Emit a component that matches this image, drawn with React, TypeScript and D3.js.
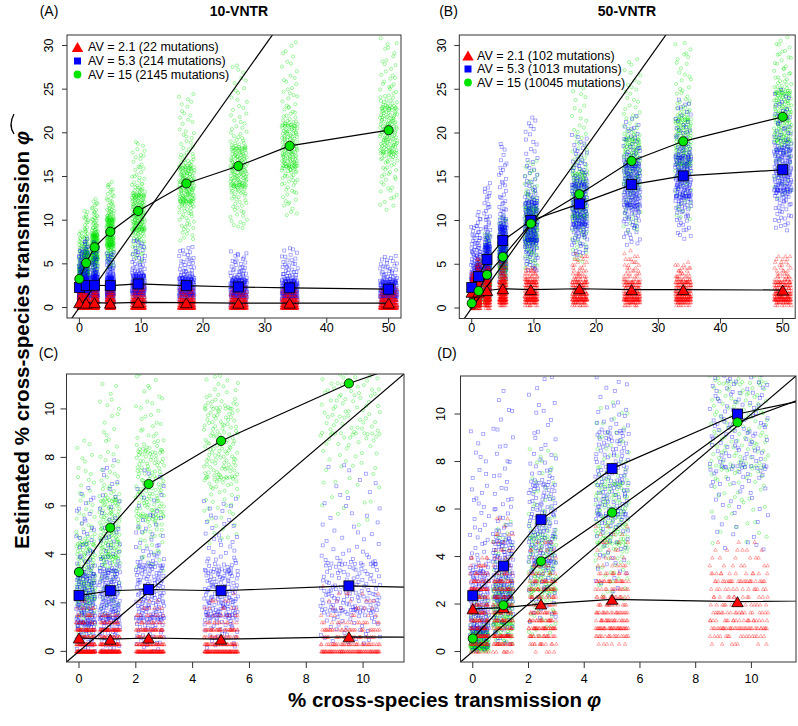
import React from "react";
import * as d3 from "d3";

// ---------- data ----------
const phiValues = [0, 1.1, 2.45, 5, 9.5, 17.3, 25.7, 34, 50];
const jitterLow = [-0.1, 0.72, 2.0, 4.4, 8.5, 16.1, 24.4, 32.7, 48.6];
const jitterHigh = [0.58, 1.45, 3.0, 5.6, 10.6, 18.6, 27.1, 35.3, 51.4];

const mean10Red = [0.55, 0.5, 0.55, 0.5, 0.6, 0.55, 0.5, 0.5, 0.5];
const mean10Blue = [2.3, 2.5, 2.55, 2.5, 2.7, 2.5, 2.35, 2.25, 2.1];
const mean10Green = [3.27, 5.1, 6.9, 8.68, 11.05, 14.2, 16.2, 18.5, 20.3];
const mean50Red = [1.8, 1.85, 2.0, 2.2, 2.1, 2.2, 2.1, 2.1, 2.05];
const mean50Blue = [2.35, 3.6, 5.55, 7.7, 10.0, 11.9, 14.1, 15.1, 15.8];
const mean50Green = [0.55, 1.95, 3.8, 5.85, 9.65, 13.0, 16.8, 19.05, 21.85];

// cloud summaries per phi: [min, q1, median, q3, max]
const cloud10Green = [
  [0.6, 2.2, 3.0, 4.4, 9.0],
  [1.4, 3.9, 4.9, 6.2, 11.2],
  [3.3, 5.6, 6.8, 8.2, 12.5],
  [4.4, 7.2, 8.5, 10.0, 14.5],
  [5.2, 9.0, 10.8, 12.8, 19.0],
  [7.5, 12.2, 14.0, 16.0, 25.0],
  [9.0, 14.0, 16.0, 18.2, 28.0],
  [10.5, 16.2, 18.3, 20.8, 30.5],
  [11.0, 17.8, 20.2, 22.8, 31.0],
];
const cloud10Blue = [
  [0, 1.2, 2.1, 3.1, 6.8],
  [0, 1.4, 2.3, 3.3, 8.0],
  [0, 1.4, 2.4, 3.5, 7.5],
  [0.1, 1.5, 2.3, 3.3, 6.5],
  [0.3, 1.7, 2.5, 3.6, 7.8],
  [0, 1.5, 2.3, 3.3, 7.0],
  [0, 1.4, 2.2, 3.1, 6.5],
  [0, 1.3, 2.1, 3.0, 6.8],
  [0, 1.3, 2.0, 2.9, 6.0],
];
const cloud10Red = [
  [0, 0, 0.3, 0.9, 2.0],
  [0, 0, 0.3, 0.9, 1.6],
  [0, 0, 0.3, 0.9, 2.1],
  [0, 0, 0.3, 0.9, 2.3],
  [0, 0, 0.3, 1.0, 2.6],
  [0, 0, 0.3, 0.9, 2.4],
  [0, 0, 0.3, 0.9, 2.3],
  [0, 0, 0.3, 0.9, 2.3],
  [0, 0, 0.3, 0.9, 2.4],
];
const cloud50Green = [
  [0, 0.2, 0.45, 0.8, 2.5],
  [0.3, 1.2, 1.9, 2.6, 5.5],
  [0.6, 2.6, 3.6, 4.8, 8.6],
  [2.2, 4.6, 5.7, 7.0, 10.5],
  [4.5, 7.8, 9.5, 11.3, 17.0],
  [5.0, 10.5, 12.8, 15.3, 26.0],
  [8.5, 14.3, 16.7, 19.2, 29.0],
  [10.0, 16.5, 19.0, 21.5, 30.5],
  [12.5, 19.2, 21.8, 24.5, 31.0],
];
const cloud50Blue = [
  [0, 1.0, 2.0, 3.3, 9.4],
  [0.3, 2.3, 3.3, 4.6, 11.0],
  [1.2, 3.8, 5.2, 7.0, 14.5],
  [2.5, 5.8, 7.4, 9.2, 18.9],
  [4.2, 7.8, 9.7, 12.0, 22.0],
  [5.8, 9.6, 11.7, 14.0, 20.0],
  [7.2, 11.8, 14.0, 16.2, 22.0],
  [7.8, 12.8, 15.0, 17.2, 24.0],
  [8.8, 13.5, 15.7, 18.0, 25.0],
];
const cloud50Red = [
  [0, 0.6, 1.5, 2.7, 4.1],
  [0, 0.6, 1.6, 2.8, 5.7],
  [0, 0.9, 1.7, 2.8, 4.8],
  [0.3, 1.0, 1.8, 3.0, 5.5],
  [0.3, 1.0, 1.8, 3.0, 4.7],
  [0.3, 1.0, 1.8, 3.0, 6.2],
  [0.3, 1.0, 1.7, 2.9, 6.5],
  [0.3, 1.0, 1.7, 2.9, 5.2],
  [0.3, 1.0, 1.7, 2.9, 6.2],
];
const pointsPerCloud = 200;

const legend10 = ["AV = 2.1 (22 mutations)", "AV = 5.3 (214 mutations)", "AV = 15 (2145 mutations)"];
const legend50 = ["AV = 2.1 (102 mutations)", "AV = 5.3 (1013 mutations)", "AV = 15 (10045 mutations)"];

const wideXTicks = [0, 10, 20, 30, 40, 50];
const wideYTicks = [0, 5, 10, 15, 20, 25, 30];
const zoomXTicks = [0, 2, 4, 6, 8, 10];
const zoomYTicks = [0, 2, 4, 6, 8, 10];

// ---------- helpers ----------
function radicalInverse(i: number, base: number) {
  let f = 1, r = 0;
  while (i > 0) {
    f /= base;
    r += f * (i % base);
    i = Math.floor(i / base);
  }
  return r;
}

function inverseCdf(q: number[], u: number) {
  const [mn, q1, md, q3, mx] = q;
  if (u < 0.25) {
    const t = u / 0.25;
    return q1 - (q1 - mn) * Math.pow(1 - t, 2.2);
  } else if (u < 0.5) {
    return q1 + (md - q1) * ((u - 0.25) / 0.25);
  } else if (u < 0.75) {
    return md + (q3 - md) * ((u - 0.5) / 0.25);
  }
  const t = (u - 0.75) / 0.25;
  return q3 + (mx - q3) * Math.pow(t, 2.2);
}

type Pt = { x: number; y: number };
function makeCloud(summary: number[][], step: number, seed: number): Pt[] {
  const out: Pt[] = [];
  summary.forEach((q, xi) => {
    for (let i = 0; i < pointsPerCloud; i++) {
      const k = 1 + i + seed + xi * 211;
      const u = radicalInverse(k, 2);
      const v = radicalInverse(k, 3);
      let y = inverseCdf(q, u);
      if (step > 0) y = Math.round(y / step) * step;
      out.push({ x: jitterLow[xi] + (jitterHigh[xi] - jitterLow[xi]) * v, y });
    }
  });
  return out;
}

const datasets: Record<string, any> = {
  v10: {
    green: makeCloud(cloud10Green, 0, 11),
    blue: makeCloud(cloud10Blue, 0, 431),
    red: makeCloud(cloud10Red, 0.3, 877),
    meanRed: mean10Red,
    meanBlue: mean10Blue,
    meanGreen: mean10Green,
    legend: legend10,
  },
  v50: {
    green: makeCloud(cloud50Green, 0, 1301),
    blue: makeCloud(cloud50Blue, 0, 1777),
    red: makeCloud(cloud50Red, 0.33, 2203),
    meanRed: mean50Red,
    meanBlue: mean50Blue,
    meanGreen: mean50Green,
    legend: legend50,
  },
};

const GREEN = "rgb(0,225,0)";
const BLUE = "rgb(0,0,255)";
const RED = "rgb(255,0,0)";
const FONT = "'Liberation Sans', Arial, Helvetica, sans-serif";

type PanelCfg = {
  id: string;
  box: [number, number, number, number];
  xd: [number, number];
  yd: [number, number];
  xticks: number[];
  yticks: number[];
  data: string;
  tag: string;
  tagX: number;
  tagY: number;
  title?: string;
  titleX?: number;
  xLabY: number;
  yLabOff: number;
  tickLen: number;
  legend?: { mx: number; tx: number; ys: number[]; fs: number };
};

const panels: PanelCfg[] = [
  {
    id: "A", box: [67, 401, 35, 318], xd: [-2, 52], yd: [-1.2, 31.2],
    xticks: wideXTicks, yticks: wideYTicks, data: "v10", tag: "(A)", tagX: 49, tagY: 16,
    title: "10-VNTR", titleX: 239, xLabY: 328, yLabOff: 18.5, tickLen: 5,
    legend: { mx: 77.5, tx: 88, ys: [47, 61, 74.5], fs: 12.5 },
  },
  {
    id: "B", box: [459.3, 795.2, 35, 318.5], xd: [-2, 52], yd: [-1.2, 31.2],
    xticks: wideXTicks, yticks: wideYTicks, data: "v50", tag: "(B)", tagX: 448.5, tagY: 16,
    title: "50-VNTR", titleX: 627, xLabY: 328, yLabOff: 17.5, tickLen: 5,
    legend: { mx: 468, tx: 477, ys: [55.5, 69, 82.5], fs: 12.5 },
  },
  {
    id: "C", box: [66.5, 404, 374, 662], xd: [-0.44, 11.44], yd: [-0.44, 11.44],
    xticks: zoomXTicks, yticks: zoomYTicks, data: "v10", tag: "(C)", tagX: 48.5, tagY: 358,
    xLabY: 679, yLabOff: 16.5, tickLen: 6,
  },
  {
    id: "D", box: [460.5, 796, 376, 662], xd: [-0.44, 11.6], yd: [-0.44, 11.6],
    xticks: zoomXTicks, yticks: zoomYTicks, data: "v50", tag: "(D)", tagX: 447, tagY: 358,
    xLabY: 679, yLabOff: 19.5, tickLen: 6,
  },
];

function triPath(cx: number, cy: number, w: number, h: number) {
  return `M${cx},${cy - h / 2}L${cx + w / 2},${cy + h / 2}L${cx - w / 2},${cy + h / 2}Z`;
}

function Panel({ p }: { p: PanelCfg }) {
  const [x0, x1, y0, y1] = p.box;
  const xs = d3.scaleLinear().domain(p.xd).range([x0, x1]);
  const ys = d3.scaleLinear().domain(p.yd).range([y1, y0]);
  const ds = datasets[p.data];
  const clipId = `clip-${p.id}`;
  const inX = (pt: Pt) => pt.x >= p.xd[0] - 0.3 && pt.x <= p.xd[1] + 0.3;
  const line = d3
    .line<number>()
    .x((_, i) => xs(phiValues[i]))
    .y((d) => ys(d));
  const diag = `M${xs(p.xd[0])},${ys(p.xd[0])}L${xs(60)},${ys(60)}`;

  return (
    <g>
      <defs>
        <clipPath id={clipId}>
          <rect x={x0} y={y0} width={x1 - x0} height={y1 - y0} />
        </clipPath>
      </defs>
      <g clipPath={`url(#${clipId})`}>
        <g fill="none" stroke={GREEN} strokeOpacity={0.5} strokeWidth={0.7}>
          {ds.green.filter(inX).map((pt: Pt, i: number) => (
            <circle key={i} cx={xs(pt.x)} cy={ys(pt.y)} r={1.6} />
          ))}
        </g>
        <g fill="none" stroke={BLUE} strokeOpacity={0.45} strokeWidth={0.7}>
          {ds.blue.filter(inX).map((pt: Pt, i: number) => (
            <rect key={i} x={xs(pt.x) - 1.5} y={ys(pt.y) - 1.5} width={3} height={3} />
          ))}
        </g>
        <g fill="none" stroke={RED} strokeOpacity={0.45} strokeWidth={0.7}>
          {ds.red.filter(inX).map((pt: Pt, i: number) => (
            <path key={i} d={triPath(xs(pt.x), ys(pt.y), 3.6, 3.2)} />
          ))}
        </g>
        <path d={diag} stroke="#000" strokeWidth={1.2} fill="none" />
        {[ds.meanRed, ds.meanBlue, ds.meanGreen].map((m: number[], i: number) => (
          <path key={i} d={line(m) || ""} stroke="#000" strokeWidth={1.2} fill="none" />
        ))}
        {ds.meanRed.map((v: number, i: number) => (
          <path key={"r" + i} d={triPath(xs(phiValues[i]), ys(v), 11.5, 10)} fill={RED} stroke="#000" strokeWidth={0.8} />
        ))}
        {ds.meanBlue.map((v: number, i: number) => (
          <rect key={"b" + i} x={xs(phiValues[i]) - 5} y={ys(v) - 5} width={10} height={10} fill={BLUE} stroke="#000" strokeWidth={0.8} />
        ))}
        {ds.meanGreen.map((v: number, i: number) => (
          <circle key={"g" + i} cx={xs(phiValues[i])} cy={ys(v)} r={4.6} fill="rgb(0,230,0)" stroke="#000" strokeWidth={0.8} />
        ))}
      </g>
      <rect x={x0} y={y0} width={x1 - x0} height={y1 - y0} fill="none" stroke="#333" strokeWidth={1} />
      <g fontFamily={FONT} fontSize={12.5} fill="#000">
        {p.xticks.map((t) => (
          <g key={"xt" + t}>
            <line x1={xs(t)} x2={xs(t)} y1={y1} y2={y1 + p.tickLen} stroke="#333" strokeWidth={1} />
            <text x={xs(t)} y={p.xLabY} dy="0.35em" textAnchor="middle">{t}</text>
          </g>
        ))}
        {p.yticks.map((t) => (
          <g key={"yt" + t}>
            <line x1={x0} x2={x0 - p.tickLen} y1={ys(t)} y2={ys(t)} stroke="#333" strokeWidth={1} />
            <text transform={`translate(${x0 - p.yLabOff},${ys(t)}) rotate(-90)`} dy="0.35em" textAnchor="middle">{t}</text>
          </g>
        ))}
      </g>
      <text x={p.tagX} y={p.tagY} textAnchor="middle" fontFamily={FONT} fontSize={14}>{p.tag}</text>
      {p.title && (
        <text x={p.titleX} y={15.5} textAnchor="middle" fontFamily={FONT} fontSize={14} fontWeight="bold">{p.title}</text>
      )}
      {p.legend && (
        <g fontFamily={FONT} fontSize={p.legend.fs}>
          <path d={triPath(p.legend.mx, p.legend.ys[0], 11.5, 10)} fill={RED} />
          <rect x={p.legend.mx - 3.5} y={p.legend.ys[1] - 3.5} width={7} height={7} fill={BLUE} />
          <circle cx={p.legend.mx} cy={p.legend.ys[2]} r={3.9} fill="rgb(0,230,0)" />
          {ds.legend.map((s: string, i: number) => (
            <text key={i} x={p.legend!.tx} y={p.legend!.ys[i]} dy="0.35em">{s}</text>
          ))}
        </g>
      )}
    </g>
  );
}

export default function App() {
  return (
    <svg
      width={798}
      height={726}
      viewBox="0 0 798 726"
      style={{ position: "absolute", left: 0, top: 0, background: "#fff" }}
    >
      <rect x={0} y={0} width={798} height={726} fill="#fff" />
      {panels.map((p) => (
        <Panel key={p.id} p={p} />
      ))}
      <g fontFamily={FONT} fontWeight="bold" fontSize={20}>
        <text x={288} y={707} textLength={294} lengthAdjust="spacingAndGlyphs">% cross-species transmission</text>
        <text x={587} y={707} fontStyle="italic">φ</text>
      </g>
      <g transform="translate(22,0) rotate(-90)" fontFamily={FONT} fontWeight="bold" fontSize={20}>
        <text x={-549} y={7} textLength={398} lengthAdjust="spacingAndGlyphs">Estimated % cross-species transmission</text>
        <text x={-145} y={7} fontStyle="italic">φ</text>
        <path d="M-134,-8 Q-125,-14 -114,-8" fill="none" stroke="#000" strokeWidth={1.3} />
      </g>
    </svg>
  );
}
